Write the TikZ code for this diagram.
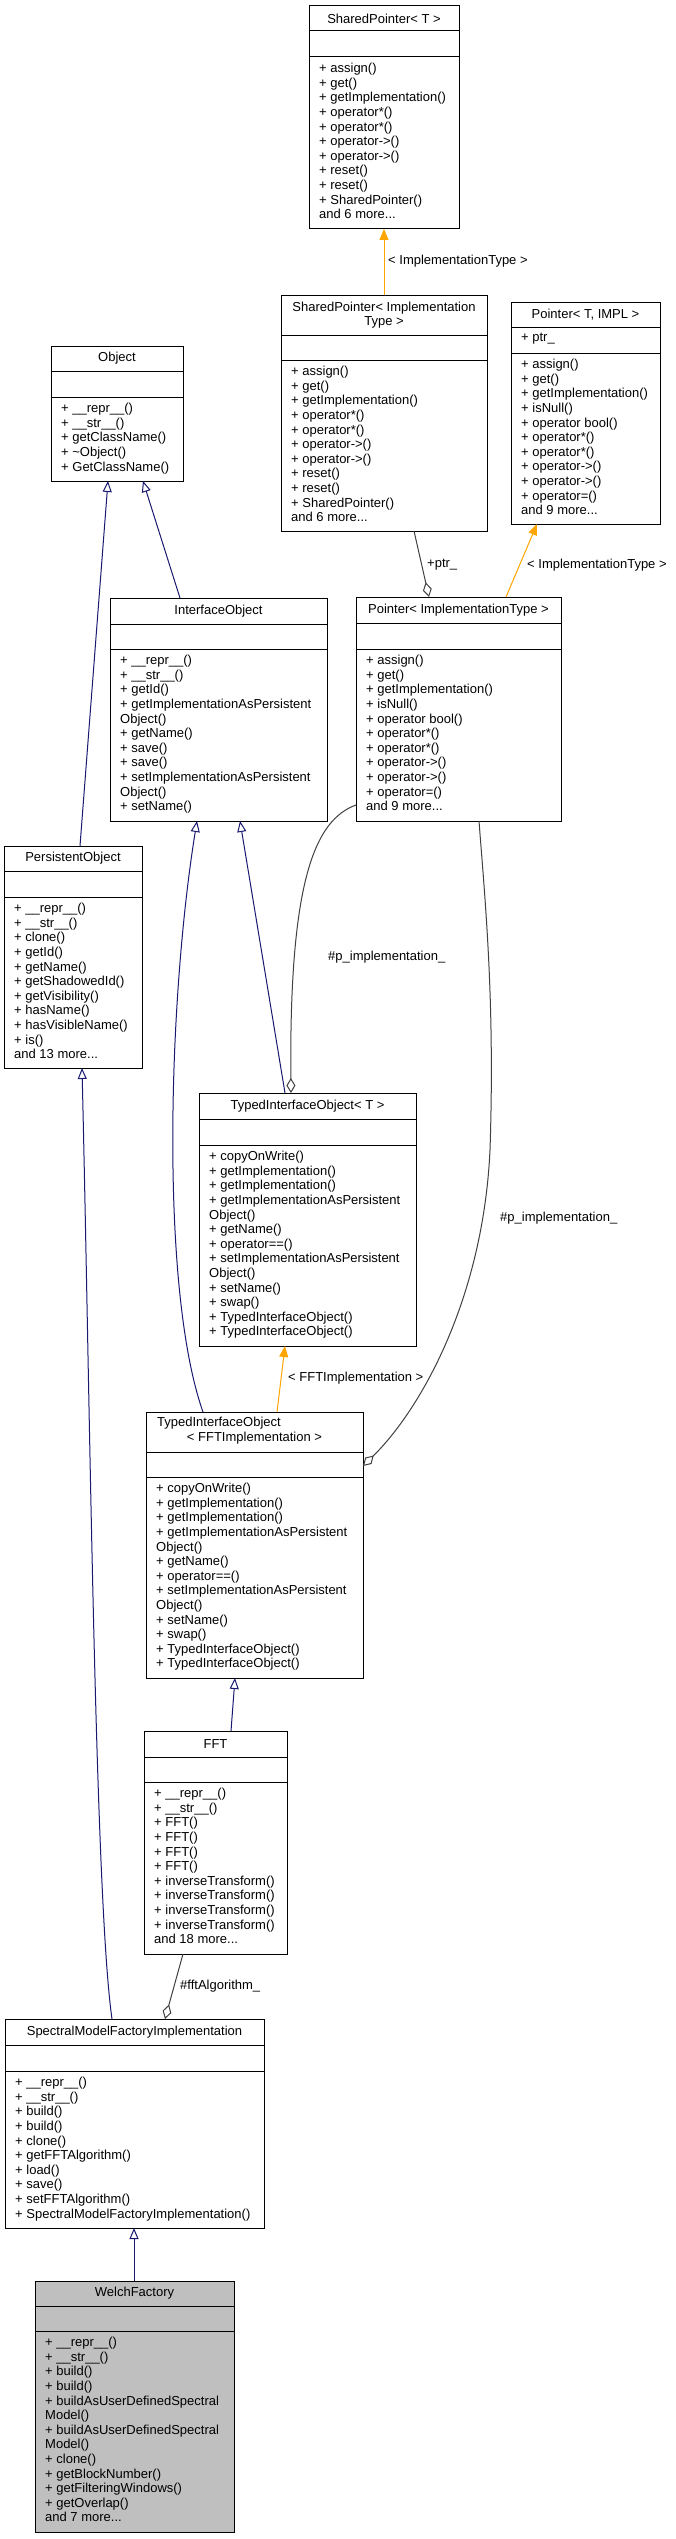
\documentclass[tikz,border=0pt]{standalone}
\usepackage{fontspec}
\setmainfont{Liberation Sans}
\usetikzlibrary{arrows.meta}
\definecolor{inhblue}{HTML}{191970}
\definecolor{tplorange}{HTML}{FFA500}
\definecolor{usegray}{HTML}{404040}
\definecolor{focusgray}{HTML}{BFBFBF}
\tikzset{
 classbox/.style={draw=black, line width=1pt, inner sep=0pt, outer sep=0pt, rectangle},
 boxline/.style={draw=black, line width=1pt},
 titletext/.style={font=\fontsize{13}{14.2}\selectfont, align=center, inner sep=0pt},
 membertext/.style={font=\fontsize{13}{14.6}\selectfont, align=left, inner sep=0pt},
 lbl/.style={font=\fontsize{13}{14.6}\selectfont, inner sep=0pt, anchor=west},
 inherit/.style={draw=inhblue, line width=1pt, -{Triangle[open, length=11pt, width=9pt]}},
 templ/.style={draw=tplorange, line width=1pt, -{Triangle[length=11pt, width=9pt, fill=tplorange]}},
 aggr/.style={draw=usegray, line width=1pt, {Diamond[open, length=15pt, width=9pt]}-},
}
\def\umlgeom#1,#2,#3,#4,#5,#6\relax{\def\umlxa{#1}\def\umlxb{#2}\def\umlyt{#3}\def\umlyh{#4}\def\umlya{#5}\def\umlyb{#6}}
% #1 name, #2 geometry x1,x2,ytop,yhead,yattr,ybottom, #3 title, #4 attributes, #5 operations, #6 fill
\newcommand{\umlclass}[6]{%
 \umlgeom#2\relax
 \pgfmathsetmacro\umlw{\umlxb-\umlxa}%
 \pgfmathsetmacro\umlh{\umlyb-\umlyt}%
 \node[classbox, fill=#6, minimum width=\umlw pt, minimum height=\umlh pt, anchor=north west] (#1) at (\umlxa,\umlyt) {};
 \draw[boxline] (\umlxa,\umlyh) -- (\umlxb,\umlyh);
 \draw[boxline] (\umlxa,\umlya) -- (\umlxb,\umlya);
 \node[titletext] (#1-title) at ({(\umlxa+\umlxb)/2},{(\umlyt+\umlyh)/2}) {#3};
 \node[membertext, anchor=north west] (#1-attrs) at ({\umlxa+10},{\umlyh+6}) {#4};
 \node[membertext, anchor=north west] (#1-ops) at ({\umlxa+10},{\umlya+6}) {#5};
}
\newcommand{\spops}{+ assign()\\+ get()\\+ getImplementation()\\+ operator*()\\+ operator*()\\+ operator->()\\+ operator->()\\+ reset()\\+ reset()\\+ SharedPointer()\\and 6 more...}
\newcommand{\ptrops}{+ assign()\\+ get()\\+ getImplementation()\\+ isNull()\\+ operator bool()\\+ operator*()\\+ operator*()\\+ operator->()\\+ operator->()\\+ operator=()\\and 9 more...}
\newcommand{\tioops}{+ copyOnWrite()\\+ getImplementation()\\+ getImplementation()\\+ getImplementationAsPersistent\\Object()\\+ getName()\\+ operator==()\\+ setImplementationAsPersistent\\Object()\\+ setName()\\+ swap()\\+ TypedInterfaceObject()\\+ TypedInterfaceObject()}
\begin{document}
\begin{tikzpicture}[x=1pt,y=-1pt]
\fill[white] (0,0) rectangle (675,2539);
\useasboundingbox (0,0) rectangle (675,2539);

\umlclass{SPT}{309,459,6,31,57,229}{SharedPointer< T >}{}{\spops}{white}
\umlclass{SPIT}{281,487,295,335,360,531}{SharedPointer< Implementation\\Type >}{}{\spops}{white}
\umlclass{PTI}{511,660,302,327,353,524}{Pointer< T, IMPL >}{+ ptr\_}{\ptrops}{white}
\umlclass{OBJ}{51,183,346,371,397,481}{Object}{}{+ \_\_repr\_\_()\\+ \_\_str\_\_()\\+ getClassName()\\+ \textasciitilde Object()\\+ GetClassName()}{white}
\umlclass{IO}{110,327,598,624,649,821}{InterfaceObject}{}{+ \_\_repr\_\_()\\+ \_\_str\_\_()\\+ getId()\\+ getImplementationAsPersistent\\Object()\\+ getName()\\+ save()\\+ save()\\+ setImplementationAsPersistent\\Object()\\+ setName()}{white}
\umlclass{PIT}{356,561,597,623,649,821}{Pointer< ImplementationType >}{}{\ptrops}{white}
\umlclass{PO}{4,142,846,871,897,1068}{PersistentObject}{}{+ \_\_repr\_\_()\\+ \_\_str\_\_()\\+ clone()\\+ getId()\\+ getName()\\+ getShadowedId()\\+ getVisibility()\\+ hasName()\\+ hasVisibleName()\\+ is()\\and 13 more...}{white}
\umlclass{TIOT}{199,416,1093,1119,1145,1346}{TypedInterfaceObject< T >}{}{\tioops}{white}
\umlclass{TIOF}{146,363,1412,1452,1477,1678}{}{}{\tioops}{white}
\node[titletext, anchor=west] (TIOF-t1) at (157,1423) {TypedInterfaceObject};
\node[titletext] (TIOF-t2) at (254.5,1438) {< FFTImplementation >};
\umlclass{FFT}{144,287,1731,1757,1782,1954}{FFT}{}{+ \_\_repr\_\_()\\+ \_\_str\_\_()\\+ FFT()\\+ FFT()\\+ FFT()\\+ FFT()\\+ inverseTransform()\\+ inverseTransform()\\+ inverseTransform()\\+ inverseTransform()\\and 18 more...}{white}
\umlclass{SMFI}{5,264,2019,2045,2071,2228}{SpectralModelFactoryImplementation}{}{+ \_\_repr\_\_()\\+ \_\_str\_\_()\\+ build()\\+ build()\\+ clone()\\+ getFFTAlgorithm()\\+ load()\\+ save()\\+ setFFTAlgorithm()\\+ SpectralModelFactoryImplementation()}{white}
\umlclass{WF}{35,234,2281,2306,2331,2532}{WelchFactory}{}{+ \_\_repr\_\_()\\+ \_\_str\_\_()\\+ build()\\+ build()\\+ buildAsUserDefinedSpectral\\Model()\\+ buildAsUserDefinedSpectral\\Model()\\+ clone()\\+ getBlockNumber()\\+ getFilteringWindows()\\+ getOverlap()\\and 7 more...}{focusgray}

% connectors
\draw[templ] ([xshift=103pt]SPIT.north west) -- ([xshift=75pt]SPT.south west);
\draw[templ] ([xshift=150pt]PIT.north west) -- ([xshift=26pt]PTI.south west);
\draw[aggr] ([xshift=73pt]PIT.north west) -- ([xshift=133pt]SPIT.south west);
\draw[inherit] ([xshift=76pt]PO.north west) -- ([xshift=57pt]OBJ.south west);
\draw[inherit] ([xshift=70pt]IO.north west) -- ([xshift=92pt]OBJ.south west);
\draw[inherit] ([xshift=86pt]TIOT.north west) -- ([xshift=130pt]IO.south west);
\draw[inherit] ([xshift=57pt]TIOF.north west) .. controls (160,1290) and (168,1000) .. ([xshift=87pt]IO.south west);
\draw[aggr] ([xshift=92pt]TIOT.north west) .. controls (289,880) and (315,820) .. ([yshift=16pt]PIT.south west);
\draw[aggr] ([yshift=-54pt]TIOF.north east) .. controls (420,1410) and (483,1300) .. (490,1150) .. controls (495,1000) and (485,900) .. ([xshift=123pt]PIT.south west);
\draw[templ] ([xshift=131pt]TIOF.north west) -- ([xshift=86pt]TIOT.south west);
\draw[inherit] ([xshift=87pt]FFT.north west) -- ([xshift=89pt]TIOF.south west);
\draw[inherit] ([xshift=107pt]SMFI.north west) .. controls (95,1900) and (90,1400) .. ([xshift=78pt]PO.south west);
\draw[aggr] ([xshift=160pt]SMFI.north west) -- ([xshift=39pt]FFT.south west);
\draw[inherit] ([xshift=99pt]WF.north west) -- ([xshift=129pt]SMFI.south west);

% labels
\node[lbl] (lab-spt) at (388,261) {< ImplementationType >};
\node[lbl] (lab-ptr) at (527,565) {< ImplementationType >};
\node[lbl] (lab-ptrmem) at (427,565) {+ptr\_};
\node[lbl] (lab-pimpl1) at (328,957) {\#p\_implementation\_};
\node[lbl] (lab-pimpl2) at (500,1218) {\#p\_implementation\_};
\node[lbl] (lab-fftimpl) at (288,1378) {< FFTImplementation >};
\node[lbl] (lab-fftalg) at (180,1986) {\#fftAlgorithm\_};
\end{tikzpicture}
\end{document}
